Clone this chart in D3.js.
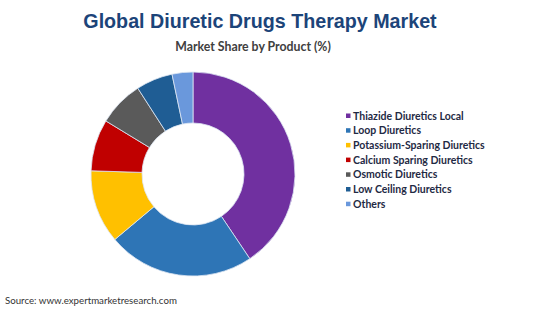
<!DOCTYPE html>
<html>
<head>
<meta charset="utf-8">
<script src="https://cdn.jsdelivr.net/npm/d3@7"></script>
<style>
  body { margin: 0; background: #fff; }
  svg { display: block; }
</style>
</head>
<body>
<div id="chart"></div>
<script>
const products = [
  "Thiazide Diuretics Local",
  "Loop Diuretics",
  "Potassium-Sparing Diuretics",
  "Calcium Sparing Diuretics",
  "Osmotic Diuretics",
  "Low Ceiling Diuretics",
  "Others"
];
const shares = [40.6, 23.3, 11.6, 8.2, 7.2, 5.8, 3.3];
const colors = ["#7030a0", "#2e75b6", "#ffc000", "#c00000", "#5a5a5a", "#1f5d94", "#6a98dc"];

const width = 550, height = 309;
const svg = d3.select("#chart")
  .append("svg")
  .attr("width", width)
  .attr("height", height);

// titles
svg.append("text")
  .attr("x", 260)
  .attr("y", 28)
  .attr("text-anchor", "middle")
  .attr("font-family", "Liberation Sans, Arial, sans-serif")
  .attr("font-weight", "bold")
  .attr("font-size", 19.7)
  .attr("fill", "#1c4479")
  .text("Global Diuretic Drugs Therapy Market");

svg.append("text")
  .attr("x", 253)
  .attr("y", 50.5)
  .attr("text-anchor", "middle")
  .attr("font-family", "Lato, Open Sans, sans-serif")
  .attr("font-weight", "bold")
  .attr("font-size", 12.3)
  .attr("fill", "#404040")
  .text("Market Share by Product (%)");

// donut
const pie = d3.pie().sort(null).value(d => d);
const arc = d3.arc().innerRadius(51).outerRadius(102);

const g = svg.append("g").attr("transform", "translate(193, 174)");
g.selectAll("path")
  .data(pie(shares))
  .enter()
  .append("path")
  .attr("d", arc)
  .attr("fill", (d, i) => colors[i])
  .attr("stroke", "#dde6f2")
  .attr("stroke-width", 0.8);

// legend
const legend = svg.append("g").attr("transform", "translate(346, 116)");
const rows = legend.selectAll("g")
  .data(products)
  .enter()
  .append("g")
  .attr("transform", (d, i) => `translate(0, ${i * 14.7})`);

rows.append("rect")
  .attr("x", 0)
  .attr("y", -2.5)
  .attr("width", 4.5)
  .attr("height", 4.5)
  .attr("fill", (d, i) => colors[i]);

rows.append("text")
  .attr("x", 7)
  .attr("dy", "0.35em")
  .attr("font-family", "Lato, Open Sans, sans-serif")
  .attr("font-weight", "bold")
  .attr("font-size", 10.5)
  .attr("fill", "#1f2a44")
  .text(d => d);

// source
svg.append("text")
  .attr("x", 5)
  .attr("y", 304)
  .attr("font-family", "Lato, Open Sans, sans-serif")
  .attr("font-size", 9.7)
  .attr("fill", "#333")
  .text("Source: www.expertmarketresearch.com");
</script>
</body>
</html>
